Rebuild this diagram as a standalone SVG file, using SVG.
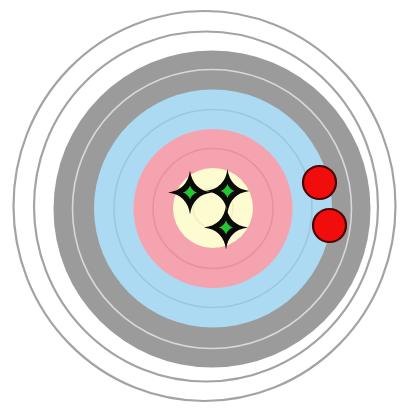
<svg xmlns="http://www.w3.org/2000/svg" width="408" height="408" viewBox="0 0 408 408">
  <defs>
    <style>
      .outline { fill: none; stroke: #a3a3a3; stroke-width: 2.2; }
      .sep { fill: none; stroke-width: 1.6; }
      .hole { fill: #f20d0d; stroke: #4a0505; stroke-width: 2.2; }
      .star { fill: #0a0a0a; }
      .core { fill: #22c832; }
    </style>
    <path id="starShape" d="M0,-22 Q2.6,-2.6 22,0 Q2.6,2.6 0,22 Q-2.6,2.6 -22,0 Q-2.6,-2.6 0,-22 Z"/>
    <path id="coreShape" d="M0,-7 Q1.8,-1.8 7,0 Q1.8,1.8 0,7 Q-1.8,1.8 -7,0 Q-1.8,-1.8 0,-7 Z"/>
  </defs>
  <rect width="408" height="408" fill="#ffffff"/>

  <g id="outer-rings">
    <ellipse class="outline" cx="204.5" cy="206" rx="191" ry="195"/>
    <ellipse class="outline" cx="206" cy="206.5" rx="172" ry="175"/>
  </g>

  <g id="target-bands">
    <circle cx="212" cy="209" r="158.5" fill="#9b9b9b"/>
    <circle class="sep" cx="212" cy="209" r="139.5" stroke="#d8d8d8"/>
    <circle cx="213" cy="208.5" r="119" fill="#acdaf3"/>
    <circle class="sep" cx="213" cy="208.5" r="99" stroke="#98c8e3"/>
    <circle cx="213" cy="208.5" r="79.5" fill="#f6a3b0"/>
    <circle class="sep" cx="213" cy="208.5" r="60" stroke="#ea909e"/>
    <circle cx="213" cy="208" r="40" fill="#fdfbd0"/>
    <circle class="sep" cx="213" cy="208" r="20" stroke="#f2efbf" stroke-width="1"/>
  </g>

  <g id="misses">
    <circle class="hole" cx="319.5" cy="182.5" r="16.5"/>
    <circle class="hole" cx="329.5" cy="225.5" r="16.5"/>
  </g>

  <g id="hits">
    <g transform="translate(190,192.5)"><use href="#starShape" class="star"/><use href="#coreShape" class="core"/></g>
    <g transform="translate(227.5,191)"><use href="#starShape" class="star"/><use href="#coreShape" class="core"/></g>
    <g transform="translate(226,227.5)"><use href="#starShape" class="star"/><use href="#coreShape" class="core"/></g>
  </g>
</svg>
